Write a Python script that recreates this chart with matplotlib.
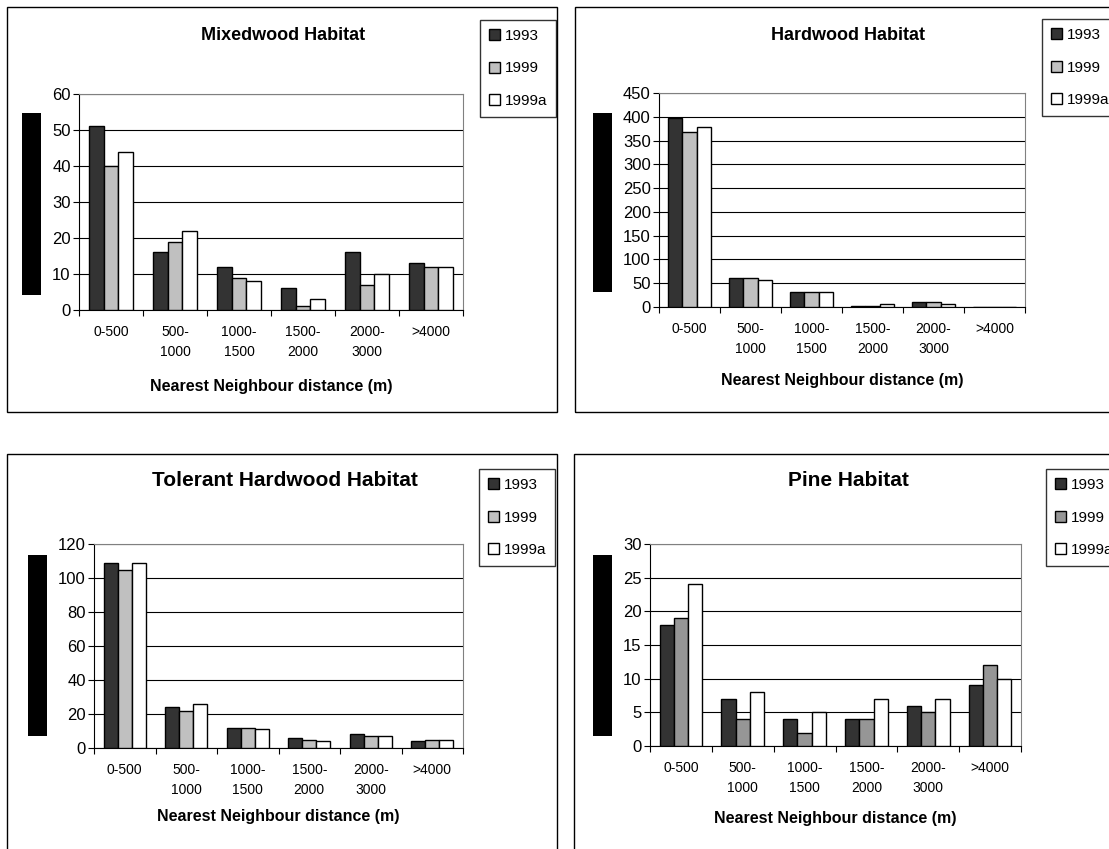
import matplotlib
matplotlib.use("Agg")
import matplotlib.pyplot as plt
from matplotlib.patches import Rectangle, Patch
import numpy as np

plt.rcParams["font.family"] = ["Liberation Sans", "DejaVu Sans"]

W, H = 1109, 849

CATEGORIES = ["0-500", "500-\n1000", "1000-\n1500", "1500-\n2000", "2000-\n3000", ">4000"]
SERIES = ["1993", "1999", "1999a"]
XLABEL = "Nearest Neighbour distance (m)"

# values per habitat: 1993, 1999, 1999a
MIXED_1993 = [51, 16, 12, 6, 16, 13]
MIXED_1999 = [40, 19, 9, 1, 7, 12]
MIXED_1999A = [44, 22, 8, 3, 10, 12]

HARD_1993 = [397, 62, 32, 3, 10, 0]
HARD_1999 = [367, 62, 32, 3, 10, 0]
HARD_1999A = [378, 57, 32, 6, 7, 0]

TOL_1993 = [109, 24, 12, 6, 8, 4]
TOL_1999 = [105, 22, 12, 5, 7, 5]
TOL_1999A = [109, 26, 11, 4, 7, 5]

PINE_1993 = [18, 7, 4, 4, 6, 9]
PINE_1999 = [19, 4, 2, 4, 5, 12]
PINE_1999A = [24, 8, 5, 7, 7, 10]

DARK = "#333333"
LIGHT = "#c0c0c0"
MID = "#969696"


def rect(x0, y0, x1, y1):
    return [x0 / W, 1 - y1 / H, (x1 - x0) / W, (y1 - y0) / H]


panels = [
    dict(title="Mixedwood Habitat", tsize=13, data=(MIXED_1993, MIXED_1999, MIXED_1999A),
         colors=(DARK, LIGHT, "white"), ymax=60, ystep=10,
         frame=(7, 7, 557, 412), axes=(79, 94, 463, 310), legend=(480, 20),
         black=(22, 113, 41, 295), title_xy=(283, 35), xlab_y=387),
    dict(title="Hardwood Habitat", tsize=13, data=(HARD_1993, HARD_1999, HARD_1999A),
         colors=(DARK, LIGHT, "white"), ymax=450, ystep=50,
         frame=(575, 7, 1120, 412), axes=(659, 93, 1025, 307), legend=(1042, 19),
         black=(593, 113, 612, 292), title_xy=(848, 35), xlab_y=380),
    dict(title="Tolerant Hardwood Habitat", tsize=15, data=(TOL_1993, TOL_1999, TOL_1999A),
         colors=(DARK, LIGHT, "white"), ymax=120, ystep=20,
         frame=(7, 454, 557, 860), axes=(94, 544, 463, 748), legend=(479, 469),
         black=(28, 555, 47, 736), title_xy=(285, 480), xlab_y=816),
    dict(title="Pine Habitat", tsize=15, data=(PINE_1993, PINE_1999, PINE_1999A),
         colors=(DARK, MID, "white"), ymax=30, ystep=5,
         frame=(574, 454, 1120, 860), axes=(650, 544, 1021, 746), legend=(1046, 469),
         black=(593, 555, 612, 736), title_xy=(848, 480), xlab_y=818),
]

fig = plt.figure(figsize=(W / 100, H / 100), dpi=100, facecolor="white")

for p in panels:
    fx0, fy0, fx1, fy1 = p["frame"]
    fig.add_artist(Rectangle((fx0 / W, 1 - fy1 / H), (fx1 - fx0) / W, (fy1 - fy0) / H,
                             transform=fig.transFigure, fill=False, edgecolor="black", lw=1))
    bx0, by0, bx1, by1 = p["black"]
    fig.add_artist(Rectangle((bx0 / W, 1 - by1 / H), (bx1 - bx0) / W, (by1 - by0) / H,
                             transform=fig.transFigure, facecolor="black", edgecolor="none"))

    ax = fig.add_axes(rect(*p["axes"]))
    x = np.arange(len(CATEGORIES))
    w = 0.23
    for i, (vals, col) in enumerate(zip(p["data"], p["colors"])):
        ax.bar(x + (i - 1) * w, vals, w, color=col, edgecolor="black", lw=1, zorder=3)

    ax.set_xlim(-0.5, len(CATEGORIES) - 0.5)
    ax.set_ylim(0, p["ymax"])
    ax.set_yticks(np.arange(0, p["ymax"] + 1, p["ystep"]))
    ax.yaxis.grid(True, color="black", lw=0.8)
    ax.set_axisbelow(True)
    ax.tick_params(axis="y", labelsize=12, direction="out", length=4, width=0.8, pad=2)
    ax.set_xticks(np.arange(-0.5, len(CATEGORIES), 1.0))
    ax.set_xticklabels([])
    ax.set_xticks(x, minor=True)
    ax.set_xticklabels(CATEGORIES, minor=True, fontsize=10, linespacing=1.55)
    ax.tick_params(axis="x", which="major", direction="out", length=4.5, width=0.8)
    ax.tick_params(axis="x", which="minor", length=0, pad=11)
    for s in ("top", "right"):
        ax.spines[s].set_color("#808080")
    for s in ("left", "bottom"):
        ax.spines[s].set_color("black")

    tx, ty = p["title_xy"]
    fig.text(tx / W, 1 - ty / H, p["title"], ha="center", va="center",
             fontsize=p["tsize"], fontweight="bold")
    ax0, _, ax1, _ = p["axes"]
    fig.text((ax0 + ax1) / 2 / W, 1 - p["xlab_y"] / H, XLABEL, ha="center", va="center",
             fontsize=11.5, fontweight="bold")

    lx0, ly0 = p["legend"]
    handles = [Patch(facecolor=c, edgecolor="black", lw=1) for c in p["colors"]]
    leg = ax.legend(handles, SERIES, loc="upper left",
                    bbox_to_anchor=(lx0 / W, 1 - ly0 / H), bbox_transform=fig.transFigure,
                    fontsize=11, frameon=True, fancybox=False, edgecolor="black",
                    handlelength=0.7, handleheight=0.7, handletextpad=0.3,
                    labelspacing=1.2, borderpad=0.6, borderaxespad=0)
    leg.get_frame().set_linewidth(1)

fig.savefig("out.png", dpi=100, facecolor="white")
